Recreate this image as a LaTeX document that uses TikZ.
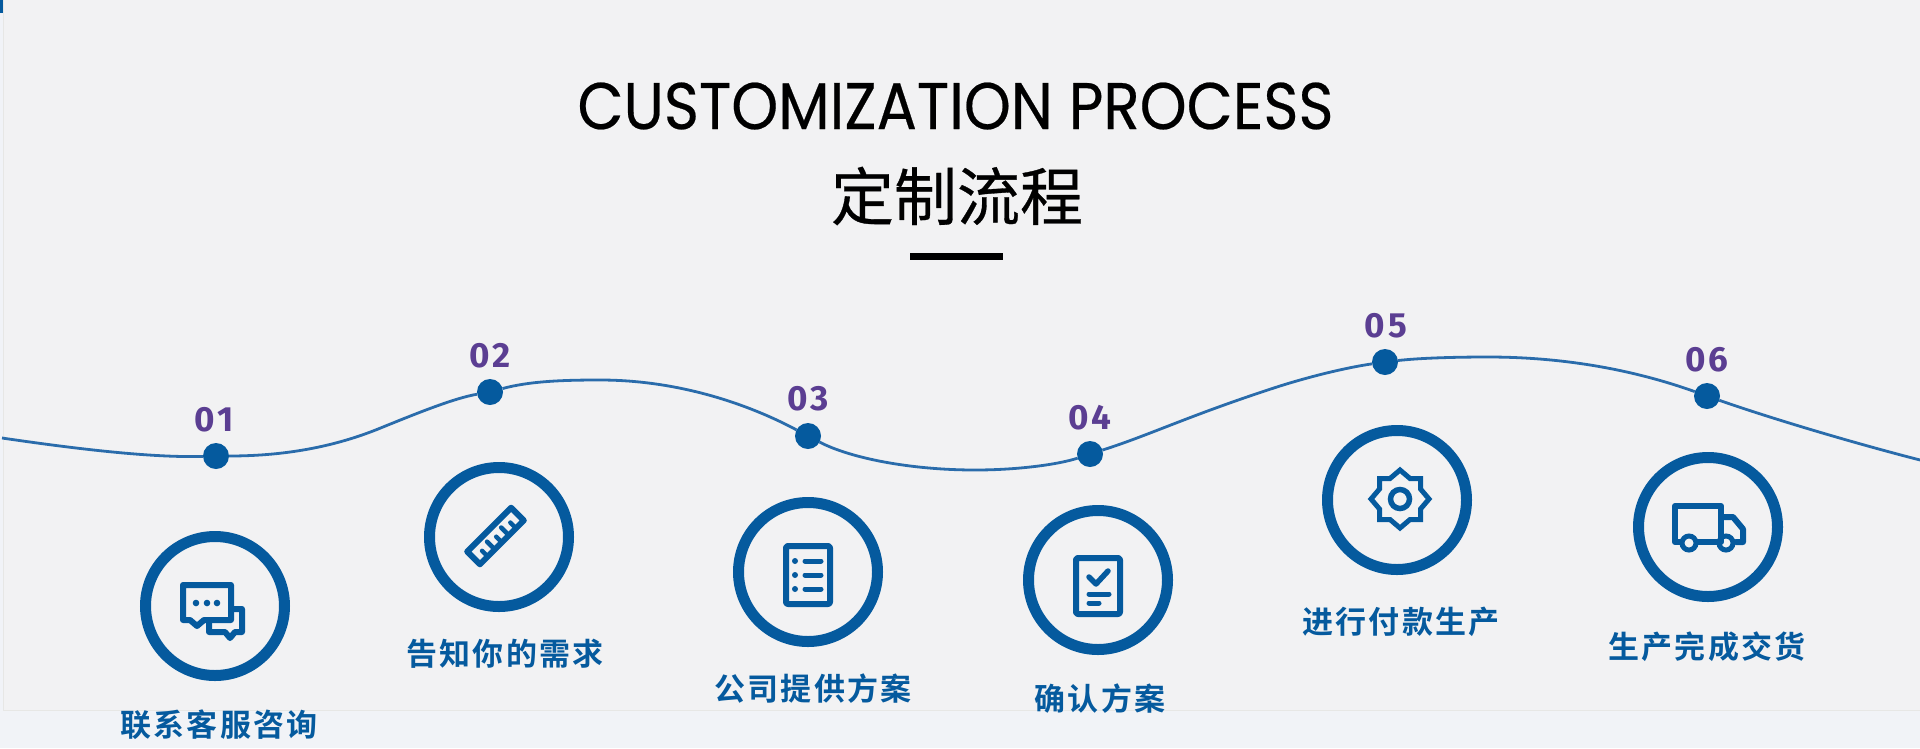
\documentclass[tikz,border=0pt]{standalone}
\usepackage{fontspec}
\setmainfont{Noto Sans}
\newfontfamily\titlefont[FakeBold=0.35]{Poppins}
\newfontfamily\cjktitle[FakeBold=0.5]{Noto Sans CJK SC}
\newfontfamily\cjklabel[LetterSpace=7.5,BoldFont={Noto Sans CJK SC Bold}]{Noto Sans CJK SC}
\newfontfamily\numfont[LetterSpace=9]{Fira Sans}
\definecolor{bgmain}{HTML}{F2F2F3}
\definecolor{bgout}{HTML}{F1F3F7}
\definecolor{edgeline}{HTML}{E7E7E5}
\definecolor{mainblue}{HTML}{055A9E}
\definecolor{wave}{HTML}{2A6CAB}
\definecolor{numpurple}{HTML}{5B3E92}
\tikzset{
  dotnode/.style={circle,fill=mainblue,minimum size=26pt,inner sep=0pt,outer sep=0pt},
  ringnode/.style={circle,draw=mainblue,line width=11pt,minimum size=139pt,inner sep=0pt,outer sep=0pt},
  numlabel/.style={inner sep=0pt,text=numpurple,font={\numfont\bfseries\fontsize{35}{35}\selectfont}},
  steplabel/.style={inner sep=0pt,text=mainblue,font={\cjklabel\bfseries\fontsize{31}{31}\selectfont}},
  waveline/.style={draw=wave,line width=2.8pt},
  iconline/.style={draw=mainblue,line width=6pt,line join=round,line cap=round},
}
\begin{document}
\begin{tikzpicture}[x=1pt,y=-1pt]
\useasboundingbox (0,0) rectangle (1920,748);
\fill[bgout] (0,0) rectangle (1920,748);
\fill[bgmain] (3,0) rectangle (1920,710);
\draw[edgeline,line width=1pt] (3,0) -- (3,710) -- (1920,710);
\fill[mainblue] (0,0) rectangle (3,13);
% title
\node[inner sep=0pt,font={\titlefont\fontsize{66}{66}\selectfont}] (title) at (955.5,106) {\scalebox{0.905}[1]{CUSTOMIZATION PROCESS}};
\node[inner sep=0pt,font={\cjktitle\fontsize{63}{63}\selectfont}] (subtitle) at (957,196) {定制流程};
\fill[black] (910,253) rectangle (1003,260);
% dots
\node[dotnode] (d1) at (216,456) {};
\node[dotnode] (d2) at (490,392) {};
\node[dotnode] (d3) at (808,436) {};
\node[dotnode] (d4) at (1090,454) {};
\node[dotnode] (d5) at (1385,362) {};
\node[dotnode] (d6) at (1707,396) {};
\coordinate (w0) at (2,438);
\coordinate (w1) at (383,427);
\coordinate (w2) at (600,380);
\coordinate (w3) at (975,470);
\coordinate (w4) at (1280,386);
\coordinate (w5) at (1488,357);
\coordinate (w6) at (1920,460);
\draw[waveline] (w0) .. controls (70,448) and (150,458) .. (d1);
\draw[waveline] (d1) .. controls (290,456) and (340,445) .. (w1) .. controls (420,412) and (455,398) .. (d2);
\draw[waveline] (d2) .. controls (530,381) and (565,380) .. (w2) .. controls (680,380) and (750,405) .. (d3);
\draw[waveline] (d3) .. controls (850,458) and (910,470) .. (w3) .. controls (1020,470) and (1060,464) .. (d4);
\draw[waveline] (d4) .. controls (1150,435) and (1190,415) .. (w4) .. controls (1315,375) and (1350,367) .. (d5);
\draw[waveline] (d5) .. controls (1420,358) and (1455,357) .. (w5) .. controls (1570,357) and (1640,372) .. (d6);
\draw[waveline] (d6) .. controls (1770,418) and (1850,442) .. (w6);
% numbers
\node[numlabel] (n1) at (214,420) {01};
\node[numlabel] (n2) at (490,356) {02};
\node[numlabel] (n3) at (808,399) {03};
\node[numlabel] (n4) at (1090,418) {04};
\node[numlabel] (n5) at (1386,326) {05};
\node[numlabel] (n6) at (1707,360) {06};
% rings
\node[ringnode] (r1) at (215,606) {};
\node[ringnode] (r2) at (499,537) {};
\node[ringnode] (r3) at (808,572) {};
\node[ringnode] (r4) at (1098,580) {};
\node[ringnode] (r5) at (1397,500) {};
\node[ringnode] (r6) at (1708,527) {};
% labels
\node[steplabel] (l1) at (219,725) {联系客服咨询};
\node[steplabel] (l2) at (505,654) {告知你的需求};
\node[steplabel] (l3) at (813,689) {公司提供方案};
\node[steplabel] (l4) at (1100,699) {确认方案};
\node[steplabel] (l5) at (1401,622) {进行付款生产};
\node[steplabel] (l6) at (1707,647) {生产完成交货};
% icon 1: chat
\draw[iconline] (234,609) -- (242,609) -- (242,632) -- (235,632) -- (230,638) -- (225,632) -- (209,632) -- (209,623);
\draw[iconline] (183,585) -- (231,585) -- (231,620) -- (204,620) -- (197,626) -- (190,620) -- (183,620) -- cycle;
\foreach \px in {196,207,217} \fill[mainblue] (\px,603) circle (3.3);
% icon 2: ruler
\begin{scope}[shift={(495.5,536)},x={(0.7071pt,0.7071pt)},y={(0.7071pt,-0.7071pt)}]
\draw[iconline] (-31,-9) -- (31,-9) -- (31,9) -- (-31,9) -- cycle;
\foreach \tx/\tl in {-20/1,-10/-2,0/1,10/-2,20/1} \draw[iconline,line width=4.5pt] (\tx,9) -- (\tx,\tl);
\end{scope}
% icon 3: list
\draw[iconline,rounded corners=2pt] (786,546) rectangle (830,604);
\foreach \py in {561,575,589} {
  \fill[mainblue] (795,\py) circle (3);
  \draw[iconline,line width=5pt] (805,\py) -- (821,\py);
}
% icon 4: check
\draw[iconline,rounded corners=2pt] (1076,558) rectangle (1120,614);
\draw[iconline,line width=5.5pt] (1089,577) -- (1096,584) -- (1108,571);
\draw[iconline,line width=5pt] (1089,594) -- (1109,594);
\draw[iconline,line width=5pt] (1089,603) -- (1099,603);
% icon 5: gear
\draw[iconline,line width=5pt,miter limit=4,line join=miter] (1400,470) -- (1410,478.5) -- (1420.5,478.5) -- (1420.5,489) -- (1429,499) -- (1420.5,509) -- (1420.5,519.5) -- (1410,519.5) -- (1400,528) -- (1390,519.5) -- (1379.5,519.5) -- (1379.5,509) -- (1371,499) -- (1379.5,489) -- (1379.5,478.5) -- (1390,478.5) -- cycle;
\draw[draw=mainblue,line width=5.5pt] (1400,499) circle (9.5);
% icon 6: truck
\draw[iconline] (1680,542) -- (1675,542) -- (1675,506) -- (1721,506) -- (1721,542);
\draw[iconline] (1698,542) -- (1717,542);
\draw[iconline] (1721,517) -- (1733,517) -- (1743,529) -- (1743,542) -- (1736,542);
\draw[draw=mainblue,line width=5pt] (1689,543) circle (7);
\draw[draw=mainblue,line width=5pt] (1726,543) circle (7);
\end{tikzpicture}
\end{document}
